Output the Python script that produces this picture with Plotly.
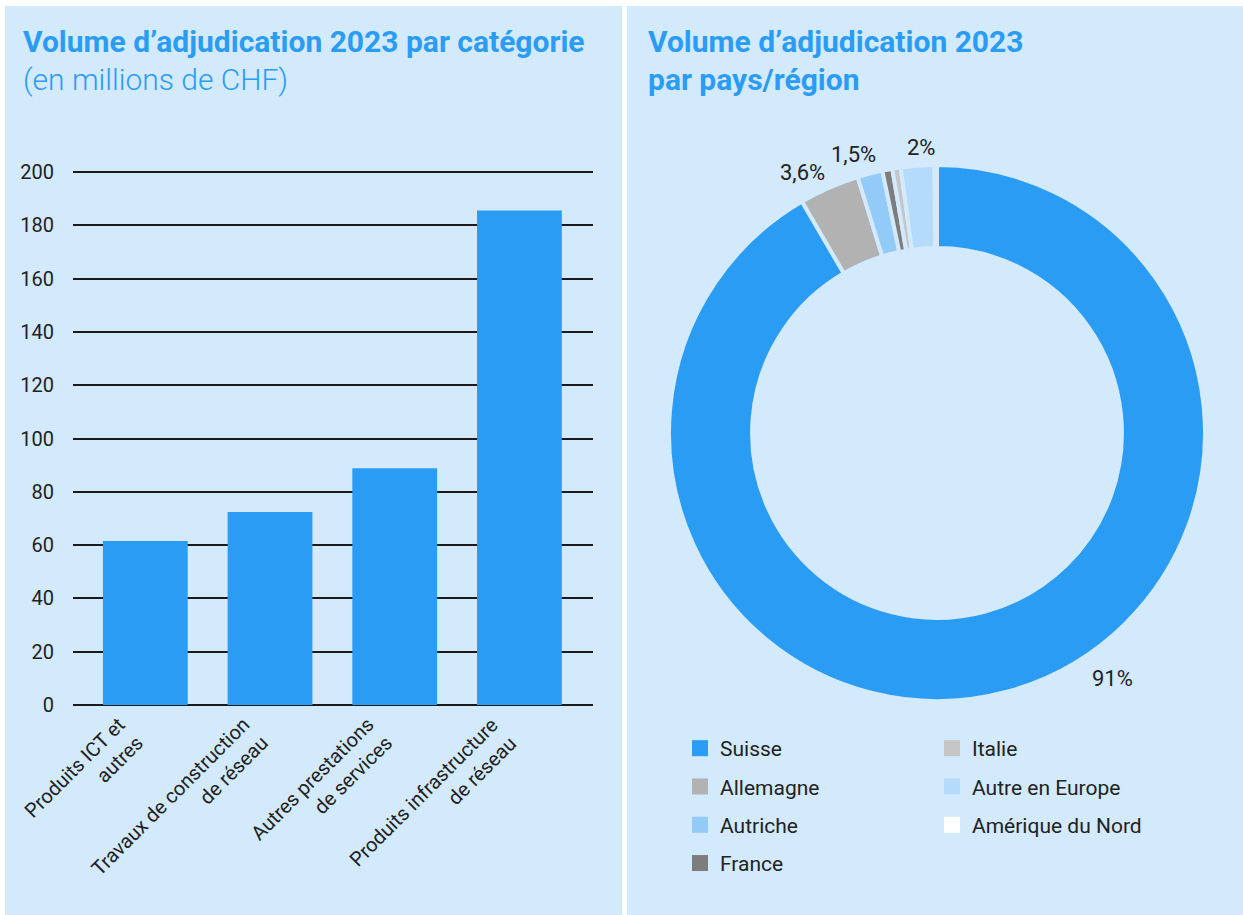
import plotly.graph_objects as go

# ---------------- data ----------------
categories = ["Produits ICT et<br>autres", "Travaux de construction<br>de réseau",
              "Autres prestations<br>de services", "Produits infrastructure<br>de réseau"]
volumes = [61.5, 72.4, 88.8, 185.6]
y_ticks = [0, 20, 40, 60, 80, 100, 120, 140, 160, 180, 200]

countries = ["Suisse", "Allemagne", "Autriche", "France", "Italie",
             "Autre en Europe", "Amérique du Nord"]
shares = [91.0, 3.6, 1.5, 0.6, 0.5, 2.0, 0.15]
share_labels = ["91%", "3,6%", "1,5%", "", "", "2%", ""]
country_colors = ["#2b9cf3", "#b2b2b2", "#92cbf8", "#7d7d7d", "#c6c6c6", "#b4dbfa", "#ffffff"]

# ---------------- styles ----------------
W, H = 1243, 915
PANEL = "#d3e9fc"
BLUE = "#2b9cf3"
TXT = "#222222"
FONT = "Roboto"


def px(x):
    return x / W


def py(y):
    return 1 - y / H


fig = go.Figure()

fig.add_trace(go.Bar(
    x=list(range(len(categories))), y=volumes, marker_color=BLUE,
    marker_line_width=0, width=0.68, showlegend=False, hoverinfo="y",
    xaxis="x", yaxis="y"))

fig.add_trace(go.Pie(
    labels=countries, values=shares, sort=False, direction="clockwise",
    rotation=0, hole=0.69, marker=dict(colors=country_colors, line=dict(color=PANEL, width=4)),
    text=share_labels, textinfo="none", showlegend=False,
    domain=dict(x=[px(669), px(1205)], y=[py(701), py(165)])))

# legend entries (two columns)
left_col = countries[:4]
for i, name in enumerate(countries):
    fig.add_trace(go.Scatter(
        x=[None], y=[None], mode="markers", name=name,
        marker=dict(symbol="square", size=16, color=country_colors[i],
                    line=dict(width=0)),
        legend="legend" if name in left_col else "legend2",
        legendgroup=name, xaxis="x", yaxis="y"))

annotations = []

# category labels under the bars (rotated, lines right-aligned)
for i, cat in enumerate(categories):
    annotations.append(dict(text=cat, x=i, y=0, xref="x", yref="y", xanchor="right",
                            yanchor="top", xshift=5, yshift=-5, textangle=-45,
                            align="right", showarrow=False,
                            font=dict(size=20, color=TXT, family=FONT)))

# percentage labels placed around the donut
label_pos = {"91%": (1112, 678), "3,6%": (802, 172), "1,5%": (853, 155), "2%": (921, 147)}
for lab in share_labels:
    if lab:
        x0, y0 = label_pos[lab]
        annotations.append(dict(text=lab, x=px(x0), y=py(y0), xref="paper", yref="paper",
                                xanchor="center", yanchor="middle",
                                showarrow=False, font=dict(size=22, color=TXT, family=FONT)))

# titles
annotations += [
    dict(text="<b>Volume d’adjudication 2023 par catégorie</b>", x=px(21), y=py(42),
         xref="paper", yref="paper", xanchor="left", yanchor="middle", showarrow=False,
         font=dict(size=30, color=BLUE, family=FONT)),
    dict(text="(en millions de CHF)", x=px(21), y=py(80),
         xref="paper", yref="paper", xanchor="left", yanchor="middle", showarrow=False,
         font=dict(size=30, color=BLUE, family=FONT, weight=300)),
    dict(text="<b>Volume d’adjudication 2023</b>", x=px(646), y=py(42),
         xref="paper", yref="paper", xanchor="left", yanchor="middle", showarrow=False,
         font=dict(size=30, color=BLUE, family=FONT)),
    dict(text="<b>par pays/région</b>", x=px(646), y=py(80),
         xref="paper", yref="paper", xanchor="left", yanchor="middle", showarrow=False,
         font=dict(size=30, color=BLUE, family=FONT)),
]

shapes = [
    dict(type="rect", xref="paper", yref="paper", x0=px(5), x1=px(622), y0=0, y1=py(6),
         fillcolor=PANEL, line_width=0, layer="below"),
    dict(type="rect", xref="paper", yref="paper", x0=px(627), x1=1, y0=0, y1=py(6),
         fillcolor=PANEL, line_width=0, layer="below"),
]

legend_common = dict(bgcolor="rgba(0,0,0,0)", borderwidth=0, orientation="v",
                     traceorder="grouped", tracegroupgap=8, yanchor="top", xanchor="left",
                     font=dict(size=21, color=TXT, family=FONT), itemclick=False,
                     itemdoubleclick=False)

fig.update_layout(
    width=W, height=H, margin=dict(l=0, r=0, t=0, b=0, autoexpand=False),
    paper_bgcolor="white", plot_bgcolor="rgba(0,0,0,0)",
    font=dict(family=FONT, color=TXT),
    xaxis=dict(domain=[px(73), px(593)], range=[-0.58, 3.59], tickmode="array",
               tickvals=list(range(len(categories))), showticklabels=False,
               showgrid=False, zeroline=False, showline=False, ticks="", automargin=False,
               fixedrange=True),
    yaxis=dict(domain=[py(705), py(170.4)], range=[0, 200.6], tickmode="array", tickvals=y_ticks,
               showgrid=True, gridcolor="#1a1a1a", gridwidth=1.5, zeroline=True,
               zerolinecolor="#1a1a1a", zerolinewidth=1.5, ticks="", ticklabelstandoff=18,
               automargin=False,
               tickfont=dict(size=20, color=TXT, family=FONT), fixedrange=True),
    legend=dict(x=px(680), y=py(728), **legend_common),
    legend2=dict(x=px(932), y=py(728), **legend_common),
    annotations=annotations, shapes=shapes, bargap=0.35,
)

fig.write_html("out.html", config={"displayModeBar": False},
               post_script="document.body.style.margin='0';document.body.style.overflow='hidden';")
